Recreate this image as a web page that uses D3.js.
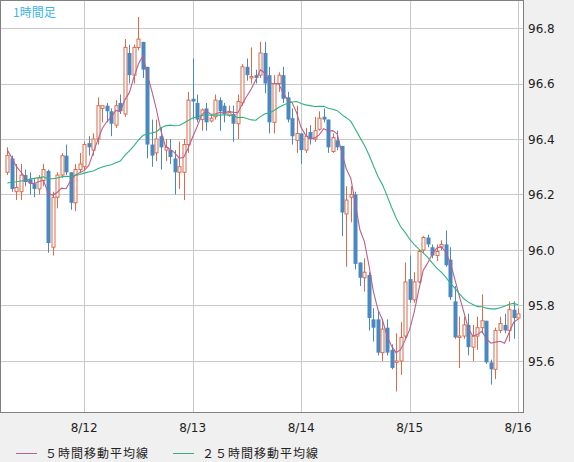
<!DOCTYPE html>
<html><head><meta charset="utf-8">
<script src="https://cdn.jsdelivr.net/npm/d3@7"></script>
<style>body{margin:0;background:#f0f0f0}svg{display:block}</style>
</head><body><svg id="c" width="574" height="462"></svg>
<script>
const opens=[96.28,96.33,96.21,96.21,96.27,96.255,96.24,96.22,96.25,96.285,96.01,96.19,96.27,96.34,96.28,96.17,96.29,96.3,96.385,96.36,96.4,96.51,96.52,96.5,96.45,96.53,96.49,96.71,96.63,96.73,
96.75,96.66,96.38,96.35,96.41,96.36,96.36,96.33,96.28,96.28,96.38,96.545,96.53,96.47,96.51,96.465,96.48,96.54,96.52,96.485,96.49,96.455,96.53,96.66,96.62,96.63,96.63,96.71,96.63,96.46,
96.6,96.63,96.55,96.475,96.395,96.42,96.36,96.425,96.4,96.435,96.48,96.47,96.355,96.395,96.375,96.13,96.19,96.2,95.955,95.9,95.91,95.75,95.75,95.63,95.72,95.64,95.595,95.6,95.69,95.895,
95.82,95.885,96.0,96.045,96.01,95.98,96.01,96.02,95.965,95.815,95.685,95.69,95.73,95.65,95.69,95.72,95.745,95.595,95.57,95.71,95.73,95.71,95.785,95.755];
const highs=[96.37,96.34,96.31,96.31,96.29,96.28,96.26,96.27,96.31,96.29,96.21,96.28,96.35,96.38,96.28,96.31,96.35,96.39,96.41,96.42,96.55,96.52,96.53,96.51,96.54,96.56,96.76,96.74,96.74,96.84,
96.75,96.66,96.47,96.47,96.44,96.4,96.4,96.36,96.39,96.4,96.57,96.69,96.56,96.51,96.53,96.49,96.56,96.55,96.53,96.52,96.52,96.56,96.67,96.69,96.73,96.65,96.75,96.75,96.66,96.63,
96.64,96.66,96.57,96.51,96.52,96.42,96.44,96.45,96.48,96.5,96.51,96.47,96.42,96.43,96.375,96.23,96.23,96.21,95.955,95.97,95.92,95.79,95.78,95.75,95.75,95.66,95.7,95.74,95.955,95.98,
95.92,96.0,96.05,96.055,96.02,96.02,96.035,96.07,96.01,95.87,95.76,95.76,95.77,95.73,95.76,95.84,95.745,95.605,95.72,95.76,95.77,95.815,95.815,95.79];
const lows=[96.27,96.21,96.18,96.18,96.23,96.2,96.19,96.2,96.23,95.99,95.98,96.15,96.26,96.27,96.145,96.14,96.28,96.29,96.34,96.34,96.38,96.46,96.46,96.41,96.44,96.49,96.48,96.6,96.6,96.72,
96.62,96.33,96.3,96.32,96.29,96.32,96.31,96.2,96.22,96.18,96.35,96.47,96.46,96.43,96.43,96.46,96.47,96.43,96.46,96.48,96.39,96.4,96.52,96.61,96.6,96.6,96.62,96.565,96.42,96.42,
96.57,96.53,96.46,96.38,96.35,96.31,96.35,96.38,96.39,96.43,96.46,96.35,96.35,96.36,96.05,95.94,96.1,95.93,95.87,95.85,95.71,95.67,95.62,95.6,95.62,95.57,95.49,95.55,95.68,95.81,
95.81,95.88,95.99,96.01,95.97,95.96,96.0,95.94,95.82,95.68,95.575,95.68,95.62,95.6,95.64,95.7,95.59,95.515,95.535,95.7,95.7,95.67,95.68,95.75];
const closes=[96.34,96.22,96.225,96.27,96.245,96.24,96.22,96.26,96.29,96.025,96.19,96.27,96.34,96.28,96.17,96.29,96.31,96.38,96.37,96.4,96.52,96.52,96.5,96.455,96.52,96.5,96.73,96.63,96.73,96.76,
96.65,96.38,96.34,96.4,96.37,96.37,96.335,96.28,96.3,96.38,96.54,96.535,96.47,96.505,96.46,96.475,96.54,96.5,96.49,96.495,96.455,96.535,96.66,96.63,96.625,96.62,96.71,96.6,96.46,96.6,
96.63,96.545,96.47,96.41,96.42,96.36,96.41,96.4,96.43,96.475,96.47,96.37,96.405,96.37,96.135,96.18,96.2,95.95,95.9,95.92,95.755,95.72,95.63,95.715,95.63,95.575,95.6,95.685,95.885,95.82,
95.885,95.995,96.045,96.02,95.98,95.995,96.02,95.945,95.83,95.685,95.69,95.73,95.65,95.69,95.72,95.745,95.595,95.57,95.71,95.735,95.71,95.785,95.755,95.77];
const priorCloses=[96.15,96.18,96.2,96.17,96.14,96.16,96.19,96.22,96.2,96.18,96.21,96.24,96.22,96.2,96.19,96.23,96.25,96.27,96.3,96.33,96.36,96.38,96.37,96.35];
const dateTicks=[{i:17,t:"8/12"},{i:41,t:"8/13"},{i:65,t:"8/14"},{i:89,t:"8/15"},{i:113,t:"8/16"}];
const priceTicks=[95.6,95.8,96.0,96.2,96.4,96.6,96.8];
const title="1時間足";
const legend=[{t:"５時間移動平均線",c:"#b8608e",n:5,x:16},{t:"２５時間移動平均線",c:"#2fb37c",n:25,x:173}];

const svg=d3.select("#c");
const L=1,R=523,T=1,B=412;
const x=d3.scaleLinear().domain([0,113]).range([7.3,518.1]);
const y=d3.scaleLinear().domain([95.6,96.8]).range([361,28]);
svg.append("rect").attr("x",L).attr("y",T).attr("width",R-L).attr("height",B-T).attr("fill","#fff");
const g=svg.append("g");
g.selectAll(".hg").data(priceTicks).join("line").attr("x1",L).attr("x2",R).attr("y1",d=>Math.round(y(d))+.5).attr("y2",d=>Math.round(y(d))+.5).attr("stroke","#c8c8c8");
g.selectAll(".vg").data(dateTicks).join("line").attr("y1",T).attr("y2",B).attr("x1",d=>Math.round(x(d.i))+.5).attr("x2",d=>Math.round(x(d.i))+.5).attr("stroke","#c8c8c8");
const all=priorCloses.concat(closes);
function sma(n){return closes.map((c,i)=>{const k=i+priorCloses.length;return d3.mean(all.slice(k-n+1,k+1));});}
const idx=d3.range(closes.length);
const up="#dd6a48",dn="#4a88c2";
const cg=svg.append("g");
idx.forEach(i=>{
  const o=opens[i],c=closes[i],isUp=c>=o,col=isUp?up:dn;
  const cx=Math.round(x(i))+.5;
  cg.append("line").attr("x1",cx).attr("x2",cx).attr("y1",y(highs[i])).attr("y2",y(lows[i])).attr("stroke",col);
  const top=y(Math.max(o,c)),bot=y(Math.min(o,c));
  if(isUp) cg.append("rect").attr("x",cx-1.5).attr("y",top).attr("width",3).attr("height",Math.max(1,bot-top)).attr("fill","#fff").attr("stroke",col);
  else cg.append("rect").attr("x",cx-2).attr("y",top).attr("width",4).attr("height",Math.max(1,bot-top)).attr("fill",col);
});
legend.forEach(l=>{
  const m=sma(l.n);
  svg.append("path").datum(idx).attr("fill","none").attr("stroke",l.c).attr("stroke-width",1.1)
    .attr("d",d3.line().x(i=>x(i)).y(i=>y(m[i])));
});
svg.append("rect").attr("x",L-0.5).attr("y",T-0.5).attr("width",R-L+1).attr("height",B-T+1).attr("fill","none").attr("stroke","#808080");
// mask outside
const font="'Noto Sans CJK JP',sans-serif";
svg.append("text").attr("x",13).attr("y",17).attr("fill","#3bb4e8").attr("font-family",font).attr("font-size",12).text(title);
svg.selectAll(".pt").data(priceTicks).join("text").attr("x",528).attr("y",d=>y(d)+4.5).attr("font-family","'DejaVu Sans',sans-serif").attr("font-size",12).attr("fill","#222").text(d=>d.toFixed(1));
svg.selectAll(".dt").data(dateTicks).join("text").attr("x",d=>x(d.i)).attr("y",432).attr("text-anchor","middle").attr("font-family","'DejaVu Sans',sans-serif").attr("font-size",12).attr("fill","#222").text(d=>d.t);
legend.forEach(l=>{
  svg.append("line").attr("x1",l.x).attr("x2",l.x+21).attr("y1",453.5).attr("y2",453.5).attr("stroke",l.c);
  svg.append("text").attr("x",l.x+29).attr("y",458).attr("font-family",font).attr("font-size",12).attr("fill","#222").attr("letter-spacing",1).text(l.t);
});
</script></body></html>
